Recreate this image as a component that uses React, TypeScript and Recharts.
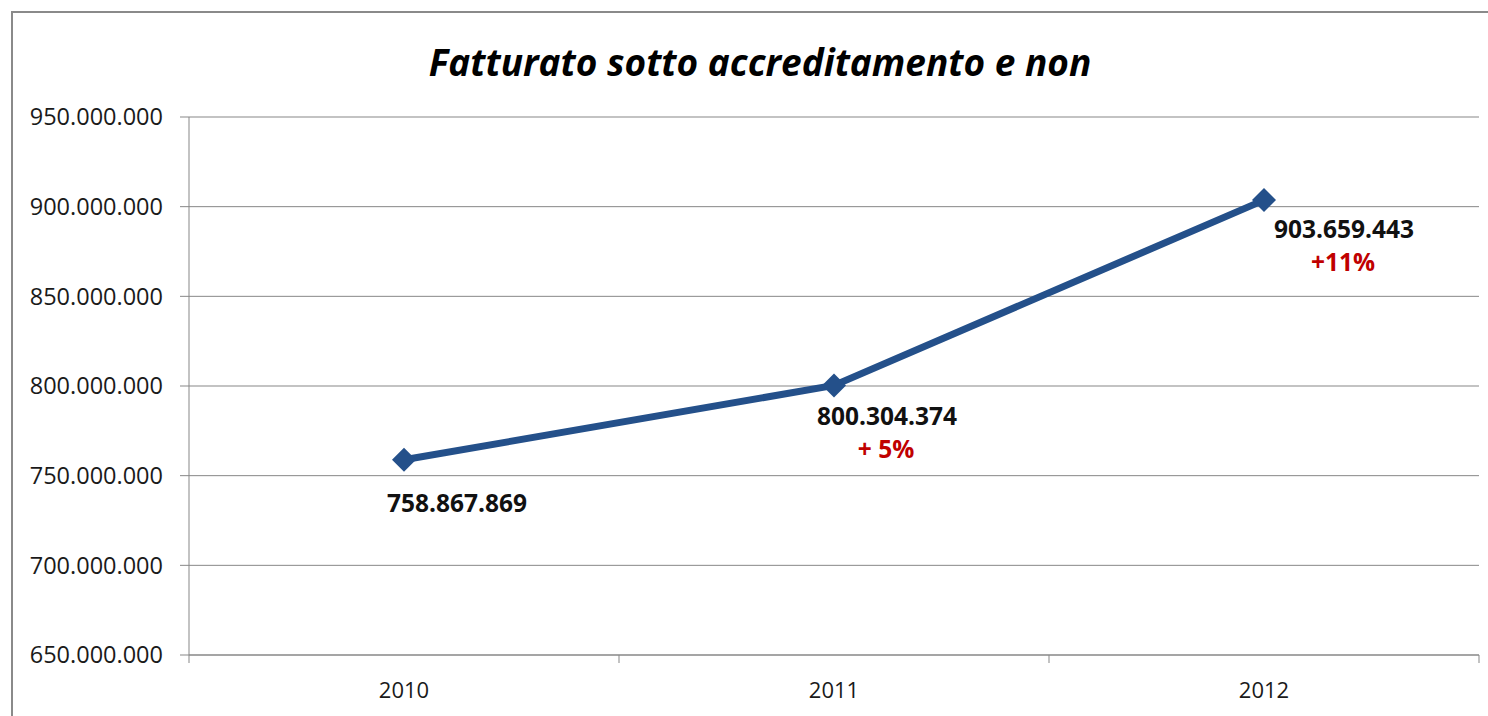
import { LineChart, Line, XAxis, YAxis, CartesianGrid, LabelList } from "recharts";

const years = ["2010", "2011", "2012"];
const fatturato = [758867869, 800304374, 903659443];
const growth = ["", "+ 5%", "+11%"];
const yTicks = [650000000, 700000000, 750000000, 800000000, 850000000, 900000000, 950000000];

const data = years.map((year, i) => ({ year, value: fatturato[i], growth: growth[i] }));

// label placement (Excel labels were dragged by hand)
const labelOffsets = [
  { dx: 53, dy: 44 },
  { dx: 53, dy: 31 },
  { dx: 80, dy: 29 },
];

const W = 1488;
const H = 716;
const PLOT_LEFT = 189;
const PLOT_RIGHT = 1479;
const PLOT_TOP = 117;
const PLOT_BOTTOM = 655;
const HALF_BAND = (PLOT_RIGHT - PLOT_LEFT) / years.length / 2;

const FONT = "'Open Sans', 'Noto Sans', sans-serif";
const GRID = "#878787";
const LINE = "#24508A";

const fmt = (v: number) => String(Math.round(v)).replace(/\B(?=(\d{3})+(?!\d))/g, ".");

function YearTick({ x, y, payload, index }: any) {
  return (
    <g>
      <line x1={x - HALF_BAND} x2={x - HALF_BAND} y1={PLOT_BOTTOM} y2={PLOT_BOTTOM + 8} stroke={GRID} />
      {index === years.length - 1 && (
        <line x1={x + HALF_BAND} x2={x + HALF_BAND} y1={PLOT_BOTTOM} y2={PLOT_BOTTOM + 8} stroke={GRID} />
      )}
      <text x={x} y={y} dy="0.71em" textAnchor="middle" fontSize={22} fill="#1a1a1a" fontFamily={FONT}>
        {payload.value}
      </text>
    </g>
  );
}

function Diamond({ cx, cy }: any) {
  const r = 12;
  return <polygon points={`${cx},${cy - r} ${cx + r},${cy} ${cx},${cy + r} ${cx - r},${cy}`} fill={LINE} />;
}

function ValueLabel({ x, y, index, value }: any) {
  const o = labelOffsets[index];
  const pct = growth[index];
  return (
    <g fontFamily={FONT} fontWeight="bold" fontSize={24.5} textAnchor="middle">
      <text x={x + o.dx} y={y + o.dy} dy="0.35em" fill="#111">
        {fmt(value)}
      </text>
      {pct && (
        <text x={x + o.dx - 1} y={y + o.dy + 33} dy="0.35em" fill="#C00000">
          {pct}
        </text>
      )}
    </g>
  );
}

export default function App() {
  return (
    <div style={{ position: "absolute", left: 0, top: 0, width: W, height: H, background: "#fff", overflow: "hidden" }}>
      <div
        style={{
          position: "absolute",
          left: 11,
          top: 11,
          width: W,
          height: H,
          borderLeft: "2px solid #8a8a8a",
          borderTop: "2px solid #8a8a8a",
        }}
      />
      <div
        style={{
          position: "absolute",
          left: 0,
          top: 38,
          width: 1520,
          textAlign: "center",
          fontFamily: FONT,
          fontWeight: "bold",
          fontStyle: "italic",
          fontSize: 37,
          color: "#000",
          lineHeight: "48px",
        }}
      >
        Fatturato sotto accreditamento e non
      </div>
      <div style={{ position: "absolute", left: 0, top: 0 }}>
        <LineChart
          width={W}
          height={H}
          data={data}
          margin={{ top: PLOT_TOP, right: W - PLOT_RIGHT, bottom: 0, left: 0 }}
        >
          <CartesianGrid horizontal vertical={false} stroke={GRID} strokeWidth={1} />
          <XAxis
            dataKey="year"
            height={H - PLOT_BOTTOM}
            padding={{ left: HALF_BAND, right: HALF_BAND }}
            axisLine={{ stroke: GRID }}
            tickLine={false}
            tickSize={0}
            tickMargin={27}
            tick={<YearTick />}
          />
          <YAxis
            width={PLOT_LEFT}
            domain={[650000000, 950000000]}
            ticks={yTicks}
            tickFormatter={fmt}
            axisLine={{ stroke: GRID }}
            tickLine={{ stroke: GRID }}
            tickSize={9}
            tickMargin={17}
            tick={{ fontSize: 23.5, fill: "#1a1a1a", fontFamily: FONT }}
            interval={0}
          />
          <Line
            type="linear"
            dataKey="value"
            stroke={LINE}
            strokeWidth={7}
            dot={<Diamond />}
            activeDot={false}
            isAnimationActive={false}
          >
            <LabelList dataKey="value" content={<ValueLabel />} />
          </Line>
        </LineChart>
      </div>
    </div>
  );
}
